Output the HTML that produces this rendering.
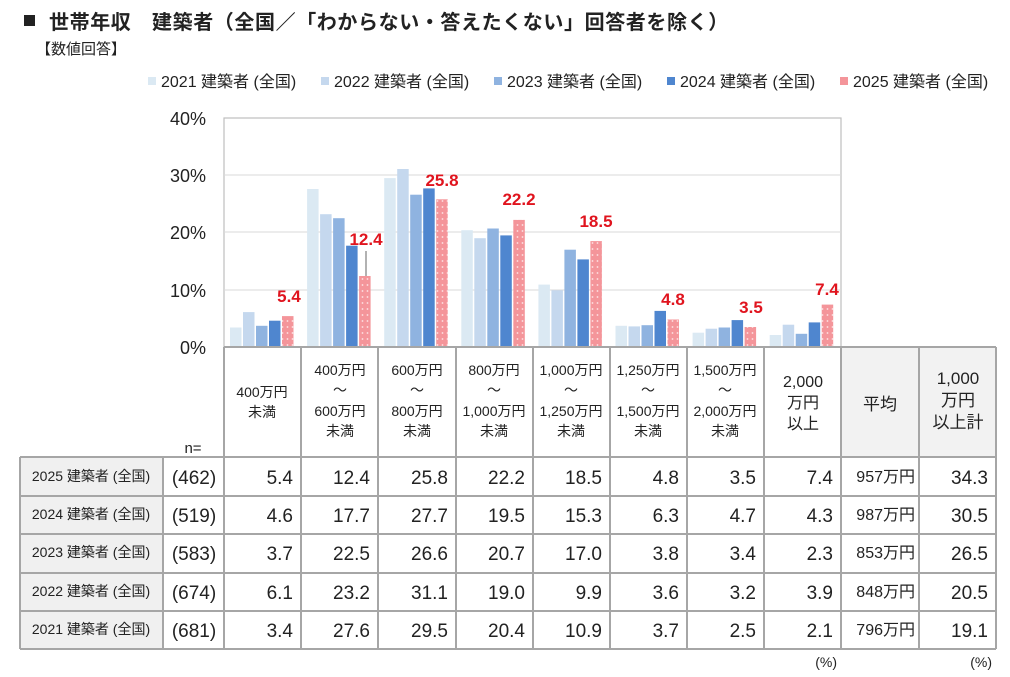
<!DOCTYPE html>
<html><head><meta charset="utf-8"><style>
body{margin:0;background:#fff;}
svg{display:block;font-family:"Liberation Sans","Noto Sans CJK JP",sans-serif;}
</style></head><body>
<svg width="1010" height="677" viewBox="0 0 1010 677" xmlns="http://www.w3.org/2000/svg">
<defs>
<pattern id="dots" width="5" height="6" patternUnits="userSpaceOnUse">
<rect width="5" height="6" fill="#f4959a"/><circle cx="2.5" cy="3" r="0.9" fill="#fde2e3"/>
</pattern>
</defs>
<rect x="24" y="15" width="11" height="11" fill="#222"/>
<text x="49" y="29" font-size="20" font-weight="bold" fill="#222" letter-spacing="0.6">世帯年収　建築者（全国／「わからない・答えたくない」回答者を除く）</text>
<text x="36" y="54" font-size="15" fill="#222">【数値回答】</text>
<g font-size="16" fill="#222" xml:space="preserve">
<rect x="148" y="77" width="8" height="8" fill="#dbe9f3"/><text x="161" y="87">2021  建築者 (全国)</text>
<rect x="321" y="77" width="8" height="8" fill="#c5d8ee"/><text x="334" y="87">2022  建築者 (全国)</text>
<rect x="494" y="77" width="8" height="8" fill="#8fb3e0"/><text x="507" y="87">2023  建築者 (全国)</text>
<rect x="667" y="77" width="8" height="8" fill="#4f86cf"/><text x="680" y="87">2024  建築者 (全国)</text>
<rect x="840" y="77" width="8" height="8" fill="#f4959a"/><text x="853" y="87">2025  建築者 (全国)</text>
</g>
<g font-size="18" fill="#222" text-anchor="end">
<text x="206" y="125">40%</text><text x="206" y="182">30%</text><text x="206" y="239">20%</text><text x="206" y="297">10%</text><text x="206" y="354">0%</text>
</g>
<rect x="224" y="118" width="617" height="229" fill="none" stroke="#bfbfbf" stroke-width="1.2"/>
<g stroke="#d9d9d9" stroke-width="1"><line x1="224" y1="175" x2="841" y2="175"/><line x1="224" y1="232" x2="841" y2="232"/><line x1="224" y1="290" x2="841" y2="290"/></g>
<g id="bars"></g>
<line x1="366" y1="251" x2="366" y2="276" stroke="#666" stroke-width="1"/>
<g font-size="17" font-weight="bold" fill="#e0141e" text-anchor="middle">
<text x="289" y="302">5.4</text><text x="366" y="245">12.4</text><text x="442" y="186">25.8</text><text x="519" y="205">22.2</text><text x="596" y="227">18.5</text><text x="673" y="305">4.8</text><text x="751" y="313">3.5</text><text x="827" y="295">7.4</text>
</g>
<!-- table -->
<rect x="841" y="347" width="155" height="110" fill="#f2f2f2"/>
<rect x="20" y="457" width="143" height="192" fill="#f0f0f0"/>
<g stroke="#a6a6a6" stroke-width="2" fill="none">
<line x1="224" y1="347" x2="996" y2="347"/>
<line x1="20" y1="457" x2="996" y2="457"/>
<line x1="20" y1="496" x2="996" y2="496"/>
<line x1="20" y1="534" x2="996" y2="534"/>
<line x1="20" y1="573" x2="996" y2="573"/>
<line x1="20" y1="611" x2="996" y2="611"/>
<line x1="20" y1="649" x2="996" y2="649"/>
<line x1="20" y1="457" x2="20" y2="649"/>
<line x1="163" y1="457" x2="163" y2="649"/>
<line x1="224" y1="347" x2="224" y2="649"/>
<line x1="301" y1="347" x2="301" y2="649"/>
<line x1="378" y1="347" x2="378" y2="649"/>
<line x1="456" y1="347" x2="456" y2="649"/>
<line x1="533" y1="347" x2="533" y2="649"/>
<line x1="610" y1="347" x2="610" y2="649"/>
<line x1="687" y1="347" x2="687" y2="649"/>
<line x1="764" y1="347" x2="764" y2="649"/>
<line x1="841" y1="347" x2="841" y2="649"/>
<line x1="919" y1="347" x2="919" y2="649"/>
<line x1="996" y1="347" x2="996" y2="649"/>
</g>
<g font-size="14" fill="#222" text-anchor="middle">
<text x="262" y="397">400万円</text><text x="262" y="417">未満</text>
<text x="340" y="375">400万円</text><text x="340" y="395">～</text><text x="340" y="416">600万円</text><text x="340" y="436">未満</text>
<text x="417" y="375">600万円</text><text x="417" y="395">～</text><text x="417" y="416">800万円</text><text x="417" y="436">未満</text>
<text x="494" y="375">800万円</text><text x="494" y="395">～</text><text x="494" y="416">1,000万円</text><text x="494" y="436">未満</text>
<text x="571" y="375">1,000万円</text><text x="571" y="395">～</text><text x="571" y="416">1,250万円</text><text x="571" y="436">未満</text>
<text x="648" y="375">1,250万円</text><text x="648" y="395">～</text><text x="648" y="416">1,500万円</text><text x="648" y="436">未満</text>
<text x="725" y="375">1,500万円</text><text x="725" y="395">～</text><text x="725" y="416">2,000万円</text><text x="725" y="436">未満</text>
<text x="803" y="387" font-size="16">2,000</text><text x="803" y="408" font-size="16">万円</text><text x="803" y="429" font-size="16">以上</text>
<text x="880" y="410" font-size="17">平均</text>
<text x="958" y="384" font-size="17">1,000</text><text x="958" y="406" font-size="17">万円</text><text x="958" y="428" font-size="17">以上計</text>
<text x="193" y="453" font-size="15">n=</text>
</g>
<g font-size="14" fill="#222" text-anchor="middle">
<text x="91" y="481">2025 建築者 (全国)</text>
<text x="91" y="519">2024 建築者 (全国)</text>
<text x="91" y="557">2023 建築者 (全国)</text>
<text x="91" y="596">2022 建築者 (全国)</text>
<text x="91" y="634">2021 建築者 (全国)</text>
</g>
<g font-size="19" fill="#222" text-anchor="middle">
<text x="194" y="484">(462)</text><text x="194" y="522">(519)</text><text x="194" y="560">(583)</text><text x="194" y="599">(674)</text><text x="194" y="637">(681)</text>
</g>
<g font-size="19" fill="#222" text-anchor="end">
<text x="293" y="484">5.4</text><text x="370" y="484">12.4</text><text x="448" y="484">25.8</text><text x="525" y="484">22.2</text><text x="602" y="484">18.5</text><text x="679" y="484">4.8</text><text x="756" y="484">3.5</text><text x="833" y="484">7.4</text><text x="988" y="484">34.3</text>
<text x="293" y="522">4.6</text><text x="370" y="522">17.7</text><text x="448" y="522">27.7</text><text x="525" y="522">19.5</text><text x="602" y="522">15.3</text><text x="679" y="522">6.3</text><text x="756" y="522">4.7</text><text x="833" y="522">4.3</text><text x="988" y="522">30.5</text>
<text x="293" y="560">3.7</text><text x="370" y="560">22.5</text><text x="448" y="560">26.6</text><text x="525" y="560">20.7</text><text x="602" y="560">17.0</text><text x="679" y="560">3.8</text><text x="756" y="560">3.4</text><text x="833" y="560">2.3</text><text x="988" y="560">26.5</text>
<text x="293" y="599">6.1</text><text x="370" y="599">23.2</text><text x="448" y="599">31.1</text><text x="525" y="599">19.0</text><text x="602" y="599">9.9</text><text x="679" y="599">3.6</text><text x="756" y="599">3.2</text><text x="833" y="599">3.9</text><text x="988" y="599">20.5</text>
<text x="293" y="637">3.4</text><text x="370" y="637">27.6</text><text x="448" y="637">29.5</text><text x="525" y="637">20.4</text><text x="602" y="637">10.9</text><text x="679" y="637">3.7</text><text x="756" y="637">2.5</text><text x="833" y="637">2.1</text><text x="988" y="637">19.1</text>
</g>
<g font-size="16" fill="#222" text-anchor="end">
<text x="915" y="482">957万円</text><text x="915" y="520">987万円</text><text x="915" y="558">853万円</text><text x="915" y="597">848万円</text><text x="915" y="635">796万円</text>
</g>
<g font-size="14" fill="#222" text-anchor="end"><text x="837" y="667">(%)</text><text x="992" y="667">(%)</text></g>
</svg>
<script>
var d=[[3.4,6.1,3.7,4.6,5.4],[27.6,23.2,22.5,17.7,12.4],[29.5,31.1,26.6,27.7,25.8],[20.4,19.0,20.7,19.5,22.2],[10.9,9.9,17.0,15.3,18.5],[3.7,3.6,3.8,6.3,4.8],[2.5,3.2,3.4,4.7,3.5],[2.1,3.9,2.3,4.3,7.4]];
var c=["#dbe9f3","#c5d8ee","#8fb3e0","#4f86cf","url(#dots)"];
var s="";
for(var i=0;i<8;i++){for(var j=0;j<5;j++){var h=d[i][j]*5.725;var x=224+77.1*i+6+13*j;
s+='<rect x="'+x.toFixed(1)+'" y="'+(347-h).toFixed(1)+'" width="11.5" height="'+h.toFixed(1)+'" fill="'+c[j]+'"/>';}}
document.getElementById("bars").innerHTML=s;
</script>
</body></html>
